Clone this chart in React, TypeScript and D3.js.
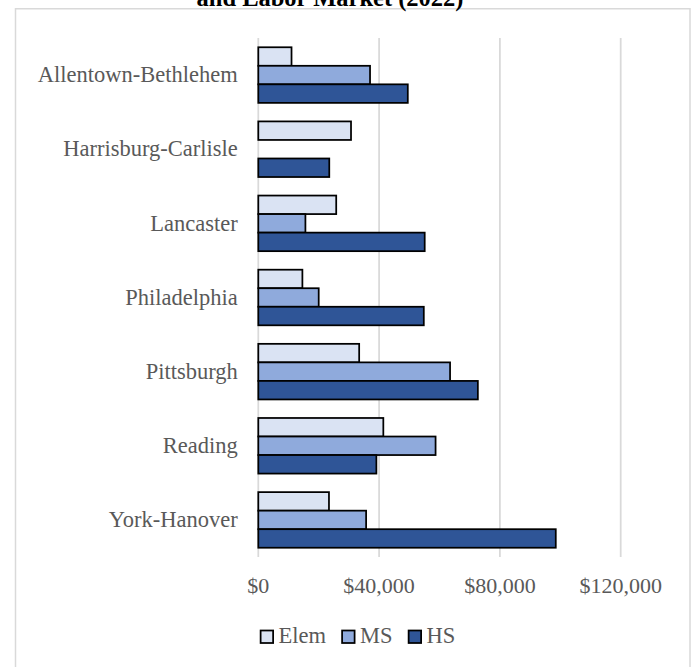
import React, { useEffect, useRef } from "react";
import * as d3 from "d3";

const categories = [
  "Allentown-Bethlehem",
  "Harrisburg-Carlisle",
  "Lancaster",
  "Philadelphia",
  "Pittsburgh",
  "Reading",
  "York-Hanover",
];
const seriesNames = ["Elem", "MS", "HS"];
const elemValues = [11000, 30700, 25800, 14600, 33400, 41400, 23400];
const msValues: (number | null)[] = [37000, null, 15600, 20000, 63500, 58700, 35700];
const hsValues = [49500, 23500, 55100, 54800, 72700, 39100, 98500];
const tickValues = [0, 40000, 80000, 120000];
const titleLine = "and Labor Market (2022)";

const seriesColors = ["#DAE3F3", "#8FAADC", "#2F5597"];
const W = 694;
const H = 667;
const FONT = "'Liberation Serif', 'Times New Roman', serif";
const TEXT = "#595959";

export default function App() {
  const ref = useRef<SVGSVGElement | null>(null);

  useEffect(() => {
    const svg = d3.select(ref.current);
    svg.selectAll("*").remove();

    const left = 258.3;
    const right = 620.7;
    const top = 38;
    const bottom = 557;

    const x = d3.scaleLinear().domain([0, 120000]).range([left, right]);
    const y = d3.scaleBand<string>().domain(categories).range([top, bottom]).padding(0);
    const ySub = d3
      .scaleBand<string>()
      .domain(seriesNames)
      .range([0, y.bandwidth()])
      .paddingInner(0)
      .paddingOuter(0.5);

    // chart border
    svg
      .append("rect")
      .attr("x", 15.5)
      .attr("y", 8.75)
      .attr("width", 690 - 15.5)
      .attr("height", 700)
      .attr("fill", "#fff")
      .attr("stroke", "#d9d9d9")
      .attr("stroke-width", 1.5);

    // title (partly cut off)
    svg
      .append("text")
      .attr("x", 330)
      .attr("y", 6)
      .attr("text-anchor", "middle")
      .attr("font-family", FONT)
      .attr("font-weight", "bold")
      .attr("font-size", 24.5)
      .attr("fill", "#000")
      .text(titleLine);

    // gridlines
    svg
      .append("g")
      .selectAll("line")
      .data(tickValues)
      .join("line")
      .attr("x1", (d) => x(d))
      .attr("x2", (d) => x(d))
      .attr("y1", top)
      .attr("y2", bottom)
      .attr("stroke", "#d9d9d9")
      .attr("stroke-width", 1.75);

    // tick labels
    const fmt = (v: number) => "$" + d3.format(",")(v);
    svg
      .append("g")
      .selectAll("text")
      .data(tickValues)
      .join("text")
      .attr("x", (d) => x(d))
      .attr("y", 593)
      .attr("text-anchor", "middle")
      .attr("font-family", FONT)
      .attr("font-size", 22)
      .attr("fill", TEXT)
      .text((d) => fmt(d));

    // category labels
    svg
      .append("g")
      .selectAll("text")
      .data(categories)
      .join("text")
      .attr("x", left - 20.5)
      .attr("y", (d) => (y(d) as number) + y.bandwidth() / 2)
      .attr("dy", "0.32em")
      .attr("text-anchor", "end")
      .attr("font-family", FONT)
      .attr("font-size", 22.5)
      .attr("fill", TEXT)
      .text((d) => d);

    // bars
    const seriesData = [elemValues, msValues, hsValues];
    seriesData.forEach((vals, si) => {
      const name = seriesNames[si];
      const rows = categories
        .map((c, i) => ({ c, v: vals[i] }))
        .filter((r) => r.v !== null && r.v !== undefined && (r.v as number) > 0);
      svg
        .append("g")
        .selectAll("rect")
        .data(rows)
        .join("rect")
        .attr("x", x(0))
        .attr("y", (d) => (y(d.c) as number) + (ySub(name) as number))
        .attr("width", (d) => x(d.v as number) - x(0))
        .attr("height", ySub.bandwidth())
        .attr("fill", seriesColors[si])
        .attr("stroke", "#000")
        .attr("stroke-width", 1.75);
    });

    // legend
    const canvas = document.createElement("canvas");
    const ctx = canvas.getContext("2d")!;
    ctx.font = `22.5px 'Liberation Serif'`;
    const sq = 12.5;
    const gapText = 5.5;
    const gapItem = 16;
    const widths = seriesNames.map((n) => ctx.measureText(n).width);
    const total =
      widths.reduce((a, w) => a + sq + gapText + w, 0) + gapItem * (seriesNames.length - 1);
    let cx = 358 - total / 2;
    const lg = svg.append("g");
    seriesNames.forEach((n, i) => {
      lg.append("rect")
        .attr("x", cx)
        .attr("y", 630.5)
        .attr("width", sq)
        .attr("height", sq)
        .attr("fill", seriesColors[i])
        .attr("stroke", "#000")
        .attr("stroke-width", 1.75);
      lg.append("text")
        .attr("x", cx + sq + gapText)
        .attr("y", 643.3)
        .attr("font-family", FONT)
        .attr("font-size", 22.5)
        .attr("fill", TEXT)
        .text(n);
      cx += sq + gapText + widths[i] + gapItem;
    });
  }, []);

  return (
    <svg
      ref={ref}
      width={W}
      height={H}
      style={{ position: "absolute", left: 0, top: 0, background: "#fff" }}
    />
  );
}
